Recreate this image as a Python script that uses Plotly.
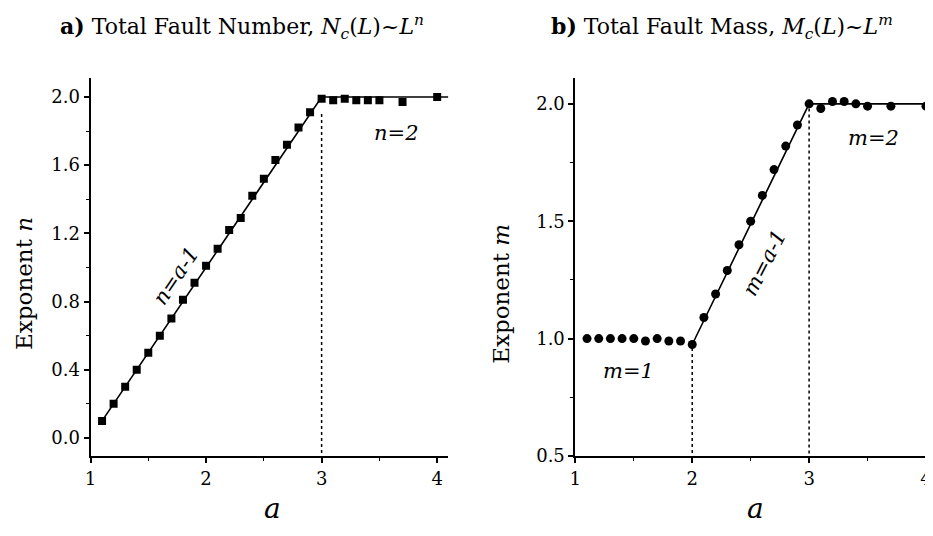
import plotly.graph_objects as go

# ---------------- data ----------------
a_n = [1.1, 1.2, 1.3, 1.4, 1.5, 1.6, 1.7, 1.8, 1.9, 2.0, 2.1, 2.2, 2.3, 2.4,
       2.5, 2.6, 2.7, 2.8, 2.9, 3.0, 3.1, 3.2, 3.3, 3.4, 3.5, 3.7, 4.0]
n_vals = [0.10, 0.20, 0.30, 0.40, 0.50, 0.60, 0.70, 0.81, 0.91, 1.01, 1.11,
          1.22, 1.29, 1.42, 1.52, 1.63, 1.72, 1.82, 1.91, 1.99, 1.98, 1.99,
          1.98, 1.98, 1.98, 1.97, 2.00]
fit_n_x = [1.1, 3.0, 4.1]
fit_n_y = [0.1, 2.0, 2.0]
guide_n_x = [3.0, 3.0]
guide_n_y = [1.9, -0.1]

a_m = [1.1, 1.2, 1.3, 1.4, 1.5, 1.6, 1.7, 1.8, 1.9, 2.0, 2.1, 2.2, 2.3, 2.4,
       2.5, 2.6, 2.7, 2.8, 2.9, 3.0, 3.1, 3.2, 3.3, 3.4, 3.5, 3.7, 4.0]
m_vals = [1.00, 1.00, 1.00, 1.00, 1.00, 0.99, 1.00, 0.99, 0.99, 0.975, 1.09,
          1.19, 1.29, 1.40, 1.50, 1.61, 1.72, 1.82, 1.91, 2.00, 1.98, 2.01,
          2.01, 2.00, 1.99, 1.99, 1.99]
fit_m_x = [2.0, 3.0, 4.1]
fit_m_y = [0.975, 2.0, 2.0]
guide_m1_x = [2.0, 2.0]
guide_m1_y = [0.96, 0.5]
guide_m2_x = [3.0, 3.0]
guide_m2_y = [1.98, 0.5]

x_ticks = [1, 2, 3, 4]
n_ticks = [0.0, 0.4, 0.8, 1.2, 1.6, 2.0]
m_ticks = [0.5, 1.0, 1.5, 2.0]

FONT = "DejaVu Serif"
OFF = 8                      # page body margin
W, H = 925, 520
T, B = 70, 72
PH = H - T - B

def px(page_x):
    return (page_x - OFF) / W

def py(page_y):
    return (H - B - (page_y - OFF)) / PH

fig = go.Figure()

# panel a
fig.add_trace(go.Scatter(x=fit_n_x, y=fit_n_y, mode="lines",
                         line=dict(color="black", width=1.6),
                         xaxis="x", yaxis="y", showlegend=False))
fig.add_trace(go.Scatter(x=guide_n_x, y=guide_n_y, mode="lines",
                         line=dict(color="black", width=1.5, dash="dot"),
                         xaxis="x", yaxis="y", showlegend=False))
fig.add_trace(go.Scatter(x=a_n, y=n_vals, mode="markers",
                         marker=dict(symbol="square", size=8, color="black"),
                         xaxis="x", yaxis="y", showlegend=False))

# panel b
fig.add_trace(go.Scatter(x=fit_m_x, y=fit_m_y, mode="lines",
                         line=dict(color="black", width=1.6),
                         xaxis="x2", yaxis="y2", showlegend=False))
fig.add_trace(go.Scatter(x=guide_m1_x, y=guide_m1_y, mode="lines",
                         line=dict(color="black", width=1.5, dash="dot"),
                         xaxis="x2", yaxis="y2", showlegend=False))
fig.add_trace(go.Scatter(x=guide_m2_x, y=guide_m2_y, mode="lines",
                         line=dict(color="black", width=1.5, dash="dot"),
                         xaxis="x2", yaxis="y2", showlegend=False))
fig.add_trace(go.Scatter(x=a_m, y=m_vals, mode="markers",
                         marker=dict(symbol="circle", size=9, color="black"),
                         xaxis="x2", yaxis="y2", showlegend=False, cliponaxis=False))

axis_common = dict(showline=True, linecolor="black", linewidth=1.8,
                   ticks="outside", ticklen=5, tickwidth=1.5, tickcolor="black",
                   showgrid=False, zeroline=False,
                   tickfont=dict(family=FONT, size=18, color="black"))

minor_x = dict(dtick=0.5, tick0=1, ticks="outside", ticklen=3,
               tickwidth=1.2, tickcolor="black")

fig.update_layout(
    width=W, height=H,
    margin=dict(l=0, r=0, t=T, b=B),
    paper_bgcolor="white", plot_bgcolor="white",
    xaxis=dict(domain=[px(85), px(445)], range=[1, 4.095], anchor="y",
               tickvals=x_ticks, ticktext=[str(v) for v in x_ticks],
               minor=minor_x, **axis_common),
    yaxis=dict(domain=[0, 1], range=[-0.106, 2.111], anchor="x",
               tickvals=n_ticks, ticktext=[f"{v:.1f}" for v in n_ticks],
               minor=dict(dtick=0.2, tick0=0, ticks="outside", ticklen=3,
                          tickwidth=1.2, tickcolor="black"),
               **axis_common),
    xaxis2=dict(domain=[px(573), 1.0], range=[1, 4.06], anchor="y2",
                tickvals=x_ticks, ticktext=[str(v) for v in x_ticks],
                minor=minor_x, **axis_common),
    yaxis2=dict(domain=[0, 1], range=[0.5, 2.11], anchor="x2",
                tickvals=m_ticks, ticktext=[f"{v:.1f}" for v in m_ticks],
                minor=dict(dtick=0.25, tick0=0.5, ticks="outside", ticklen=3,
                           tickwidth=1.2, tickcolor="black"),
                **axis_common),
)

def txt(text, x, y, size, xref="paper", yref="paper", angle=0,
        xanchor="center", yanchor="middle"):
    return dict(text=text, x=x, y=y, xref=xref, yref=yref, textangle=angle,
                xanchor=xanchor, yanchor=yanchor, showarrow=False,
                font=dict(family=FONT, size=size, color="black"))

ann = [
    txt("<b>a)</b> Total Fault Number, <i>N<sub>c</sub></i>(<i>L</i>)~<i>L<sup>n</sup></i>",
        px(237), py(9), 22, yanchor="top"),
    txt("<b>b)</b> Total Fault Mass, <i>M<sub>c</sub></i>(<i>L</i>)~<i>L<sup>m</sup></i>",
        px(721), py(9), 22, yanchor="top"),
    txt("Exponent <i>n</i>", px(18), py(283), 23, angle=-90),
    txt("Exponent <i>m</i>", px(498), py(294), 23, angle=-90),
    txt("<i>a</i>", px(268), py(527), 28, yanchor="bottom"),
    txt("<i>a</i>", px(754), py(527), 28, yanchor="bottom"),
    txt("<i>n</i>=<i>a</i>-<i>1</i>", 1.74, 0.95, 21, "x", "y", -56),
    txt("<i>n</i>=<i>2</i>", 3.648, 1.789, 21, "x", "y"),
    txt("<i>m</i>=<i>1</i>", 1.454, 0.862, 21, "x2", "y2"),
    txt("<i>m</i>=<i>a</i>-<i>1</i>", 2.616, 1.323, 21, "x2", "y2", -63),
    txt("<i>m</i>=<i>2</i>", 3.552, 1.855, 21, "x2", "y2"),
]

fig.update_layout(annotations=ann)

fig.write_html("out.html")
